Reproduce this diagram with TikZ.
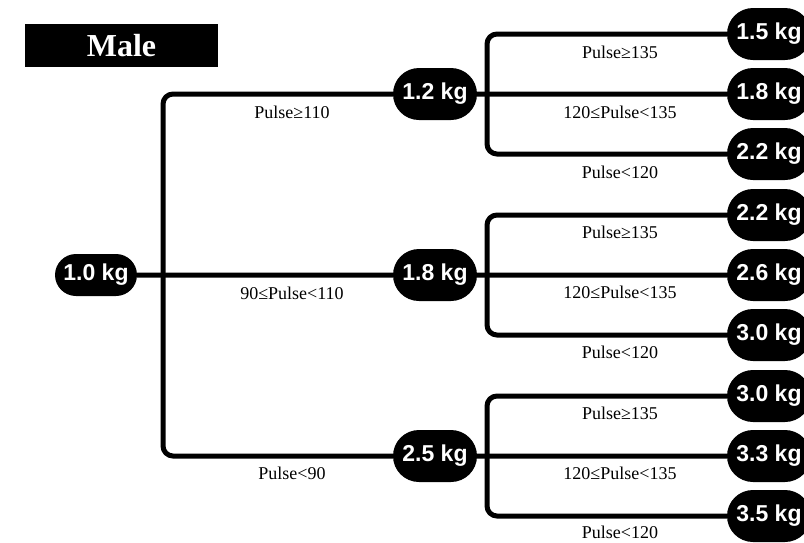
\documentclass[tikz,border=0pt]{standalone}
\usepackage{fontspec}
\setmainfont{Liberation Serif}
\newfontfamily\kgfont{Liberation Sans}
\usetikzlibrary{shapes.misc}
\tikzstyle{kg}=[shape=rounded rectangle, fill=black, text=white, inner sep=0, minimum width=84pt, minimum height=52pt, font=\kgfont\bfseries\fontsize{23}{23}\selectfont]
\tikzstyle{br}=[line width=5pt, rounded corners=10pt]
\tikzstyle{cond}=[inner sep=0, font=\fontsize{18}{18}\selectfont]

\begin{document}
\begin{tikzpicture}[x=1pt,y=-1pt]
\clip (0,0) rectangle (804,542);
\node at (121.5,45.5)[fill=black, text=white, minimum width=193pt, minimum height=43pt, font=\bfseries\fontsize{32}{32}\selectfont](male){Male};
\node at (96,275)[kg, minimum width=82pt, minimum height=42pt](r){1.0 kg};
\node at (435,94)[kg](m1){1.2 kg};
\node at (435,275)[kg](m2){1.8 kg};
\node at (435,456)[kg](m3){2.5 kg};
\node at (769,34)[kg](l1){1.5 kg};
\node at (769,94)[kg](l2){1.8 kg};
\node at (769,154)[kg](l3){2.2 kg};
\node at (769,215)[kg](l4){2.2 kg};
\node at (769,275)[kg](l5){2.6 kg};
\node at (769,335)[kg](l6){3.0 kg};
\node at (769,396)[kg](l7){3.0 kg};
\node at (769,456)[kg](l8){3.3 kg};
\node at (769,516)[kg](l9){3.5 kg};
\coordinate (rt) at (163,275);
\coordinate (c1) at (487,94);
\coordinate (c2) at (487,275);
\coordinate (c3) at (487,456);
\draw[br] (r)--(m2);
\draw[br] (m1) -| (rt) |- (m3);
\draw[br] (m1)--(l2);
\draw[br] (l1) -| (c1) |- (l3);
\draw[br] (m2)--(l5);
\draw[br] (l4) -| (c2) |- (l6);
\draw[br] (m3)--(l8);
\draw[br] (l7) -| (c3) |- (l9);
\node at (292,112)[cond](p1){Pulse≥110};
\node at (292,293)[cond](p2){90≤Pulse<110};
\node at (292,473)[cond](p3){Pulse<90};
\node at (620,52)[cond](q1){Pulse≥135};
\node at (620,112)[cond](q2){120≤Pulse<135};
\node at (620,172)[cond](q3){Pulse<120};
\node at (620,232)[cond](q4){Pulse≥135};
\node at (620,292)[cond](q5){120≤Pulse<135};
\node at (620,352)[cond](q6){Pulse<120};
\node at (620,413)[cond](q7){Pulse≥135};
\node at (620,473)[cond](q8){120≤Pulse<135};
\node at (620,532)[cond](q9){Pulse<120};
\end{tikzpicture}
\end{document}
